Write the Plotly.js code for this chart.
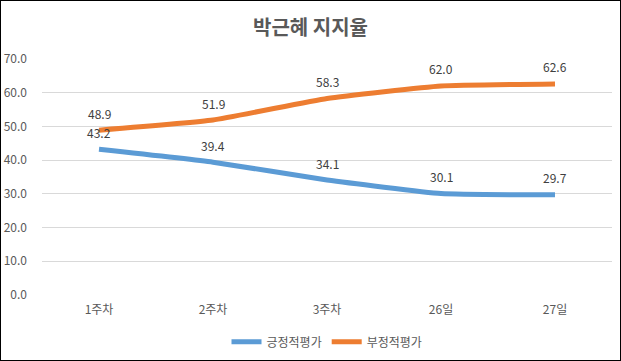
<!DOCTYPE html>
<html>
<head>
<meta charset="utf-8">
<script src="https://cdn.plot.ly/plotly-3.0.1.min.js"></script>
<style>
html,body{margin:0;padding:0;background:#fff;}
#wrap{position:relative;width:621px;height:361px;}
#chart{width:621px;height:361px;}
#frame{position:absolute;left:0;top:0;width:621px;height:361px;box-sizing:border-box;border:1.5px solid #000;pointer-events:none;}
</style>
</head>
<body>
<div id="wrap"><div id="chart"></div><div id="frame"></div></div>
<script>
const categories = ['1주차', '2주차', '3주차', '26일', '27일'];
const positive = [43.2, 39.4, 34.1, 30.1, 29.7];
const negative = [48.9, 51.9, 58.3, 62.0, 62.6];
const seriesNames = ['긍정적평가', '부정적평가'];
const yTicks = [0, 10, 20, 30, 40, 50, 60, 70];

const font = "'Malgun Gothic', 'Noto Sans CJK KR', 'Noto Sans', sans-serif";

function line(name, vals, color) {
  return {
    x: categories, y: vals, name: name, type: 'scatter', mode: 'lines',
    line: {color: color, width: 5, shape: 'spline', smoothing: 0.4},
    hoverinfo: 'skip'
  };
}

const data = [
  line(seriesNames[0], positive, '#5B9BD5'),
  line(seriesNames[1], negative, '#ED7D31')
];

const annotations = [];
[positive, negative].forEach(vals => {
  vals.forEach((v, i) => {
    annotations.push({
      x: categories[i], y: v, xref: 'x', yref: 'y',
      text: v.toFixed(1), showarrow: false, yshift: 17,
      font: {family: font, size: 12, color: '#404040'}
    });
  });
});

const layout = {
  width: 621, height: 361,
  margin: {l: 42, r: 9, t: 59, b: 66},
  paper_bgcolor: '#fff', plot_bgcolor: '#fff',
  title: {text: '박근혜 지지율', x: 0.5, xanchor: 'center', y: 0.922, yanchor: 'middle',
          font: {family: font, size: 20, color: '#595959', weight: 'bold'}},
  font: {family: font, size: 12, color: '#595959'},
  xaxis: {type: 'category', range: [-0.5, categories.length - 0.5],
          showgrid: false, zeroline: false, showline: false,
          ticks: '', tickfont: {family: font, size: 12, color: '#595959'}, ticklabelstandoff: 6},
  yaxis: {range: [0, 70], tickvals: yTicks, ticktext: yTicks.map(v => v.toFixed(1)),
          showgrid: true, gridcolor: '#d9d9d9', gridwidth: 1, zeroline: false, showline: false,
          ticks: '', ticklabelstandoff: 14, tickfont: {family: font, size: 12, color: '#595959'}},
  showlegend: true,
  legend: {orientation: 'h', x: 0.5, xanchor: 'center', yref: 'container', y: 0.053, yanchor: 'middle',
           font: {family: font, size: 12, color: '#595959'}, itemwidth: 30},
  annotations: annotations
};

Plotly.newPlot('chart', data, layout, {displayModeBar: false, staticPlot: true});
</script>
</body>
</html>
